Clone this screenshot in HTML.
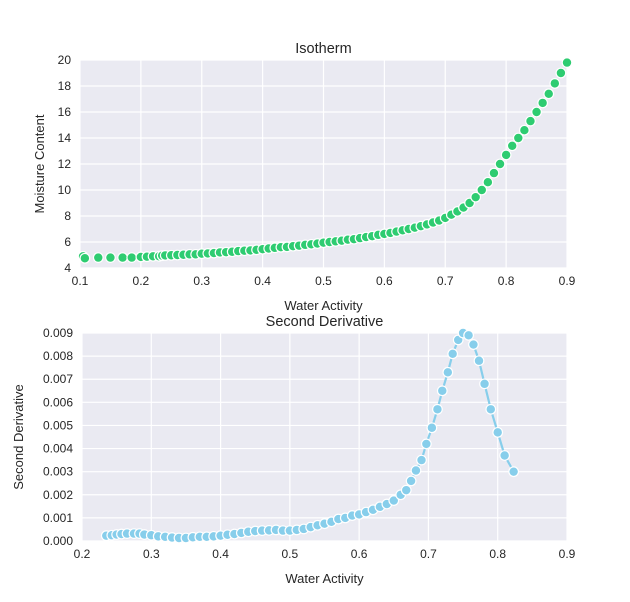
<!DOCTYPE html>
<html><head><meta charset="utf-8"><style>
html,body{margin:0;padding:0;background:#fff}
svg{display:block;font-family:"Liberation Sans",Arial,sans-serif}
</style></head><body>
<svg id="chart" width="630" height="602" xmlns="http://www.w3.org/2000/svg"></svg>
<script>
const isoX=[0.105,0.108,0.13,0.15,0.17,0.185,0.2,0.21,0.22,0.23,0.235,0.24,0.25,0.26,0.27,0.28,0.29,0.3,0.31,0.32,0.33,0.34,0.35,0.36,0.37,0.38,0.39,0.4,0.41,0.42,0.43,0.44,0.45,0.46,0.47,0.48,0.49,0.5,0.51,0.52,0.53,0.54,0.55,0.56,0.57,0.58,0.59,0.6,0.61,0.62,0.63,0.64,0.65,0.66,0.67,0.68,0.69,0.7,0.71,0.72,0.73,0.74,0.75,0.76,0.77,0.78,0.79,0.8,0.81,0.82,0.83,0.84,0.85,0.86,0.87,0.88,0.89,0.9];
const isoY=[4.9,4.75,4.8,4.8,4.8,4.8,4.85,4.87,4.9,4.9,4.95,4.97,4.98,5.0,5.02,5.05,5.05,5.1,5.12,5.15,5.2,5.22,5.25,5.3,5.33,5.35,5.4,5.45,5.5,5.55,5.6,5.62,5.68,5.72,5.78,5.82,5.88,5.95,6.0,6.05,6.1,6.18,6.22,6.3,6.38,6.45,6.55,6.62,6.7,6.8,6.9,7.0,7.1,7.22,7.35,7.5,7.65,7.85,8.1,8.35,8.65,9.0,9.45,10.0,10.6,11.3,12.0,12.7,13.4,14.0,14.6,15.3,16.0,16.7,17.4,18.2,19.0,19.8];
const derX=[0.235,0.243,0.25,0.257,0.265,0.275,0.283,0.29,0.3,0.31,0.32,0.33,0.34,0.35,0.36,0.37,0.38,0.39,0.4,0.41,0.42,0.43,0.44,0.45,0.46,0.47,0.48,0.49,0.5,0.51,0.52,0.53,0.54,0.55,0.56,0.57,0.58,0.59,0.6,0.61,0.62,0.63,0.64,0.65,0.66,0.668,0.675,0.682,0.69,0.697,0.705,0.713,0.72,0.728,0.735,0.743,0.75,0.758,0.765,0.773,0.781,0.79,0.8,0.81,0.823];
const derY=[0.00023,0.00025,0.00028,0.0003,0.00032,0.00032,0.00032,0.00028,0.00025,0.0002,0.00018,0.00015,0.00013,0.00013,0.00016,0.00018,0.00018,0.0002,0.00023,0.00027,0.0003,0.00035,0.0004,0.00043,0.00045,0.00046,0.00048,0.00045,0.00045,0.00048,0.00052,0.0006,0.00068,0.00075,0.00083,0.00095,0.001,0.0011,0.00115,0.00125,0.00135,0.00148,0.0016,0.00175,0.002,0.0022,0.0026,0.00305,0.0035,0.0042,0.0049,0.0057,0.0065,0.0073,0.0081,0.0087,0.009,0.0089,0.0085,0.0078,0.0068,0.0057,0.0047,0.0037,0.003];
const isoXTicks=[0.1,0.2,0.3,0.4,0.5,0.6,0.7,0.8,0.9];
const isoYTicks=[4,6,8,10,12,14,16,18,20];
const derXTicks=[0.2,0.3,0.4,0.5,0.6,0.7,0.8,0.9];
const derYTicks=[0,0.001,0.002,0.003,0.004,0.005,0.006,0.007,0.008,0.009];

const NS="http://www.w3.org/2000/svg";
const svg=document.getElementById('chart');
function mk(tag,attrs,parent){const e=document.createElementNS(NS,tag);for(const k in attrs)e.setAttribute(k,attrs[k]);(parent||svg).appendChild(e);return e;}

function panel(o){
  const g=mk('g',{});
  
  
  const sx=v=>o.x0+(v-o.xmin)/(o.xmax-o.xmin)*(o.x1-o.x0);
  const sy=v=>o.y1-(v-o.ymin)/(o.ymax-o.ymin)*(o.y1-o.y0);
  const bg=mk('rect',{x:o.x0,y:o.y0,width:o.x1-o.x0,height:o.y1-o.y0,fill:'#eaeaf2'},g);
  
  
  o.xt.forEach(t=>{
    const l=mk('line',{x1:sx(t),x2:sx(t),y1:o.y0,y2:o.y1,stroke:'#fff','stroke-width':1.2},g);
    
    
    const tx=mk('text',{x:sx(t),y:o.y1+17,'text-anchor':'middle','font-size':12,fill:'#262626'},g);
    tx.textContent=t.toFixed(1);
    
    
  });
  o.yt.forEach(t=>{
    const l=mk('line',{x1:o.x0,x2:o.x1,y1:sy(t),y2:sy(t),stroke:'#fff','stroke-width':1.2},g);
    
    
    const tx=mk('text',{x:o.x0-9,y:sy(t)+4,'text-anchor':'end','font-size':12,fill:'#262626'},g);
    tx.textContent=o.yfmt(t);
    
    
  });
  const cg=mk('g',{},g);
  if(o.line){
    const pl=mk('polyline',{points:o.xs.map((v,i)=>sx(v)+','+sy(o.ys[i])).join(' '),fill:'none',stroke:o.color,'stroke-width':2.2},cg);
    
    
  }
  o.xs.forEach((v,i)=>{
    const c=mk('circle',{cx:sx(v),cy:sy(o.ys[i]),r:4.8,fill:o.color,stroke:'#fff','stroke-width':1.2},cg);
    
    
  });
  const title=mk('text',{x:(o.x0+o.x1)/2,y:o.y0-7,'text-anchor':'middle','font-size':14.5,fill:'#262626'},g);
  title.textContent=o.title;
  
  
  const xl=mk('text',{x:(o.x0+o.x1)/2,y:o.y1+42,'text-anchor':'middle','font-size':13,fill:'#262626'},g);
  xl.textContent='Water Activity';
  
  
  const yc=(o.y0+o.y1)/2;
  const yl=mk('text',{x:o.ylx,y:yc,'text-anchor':'middle','font-size':13,fill:'#262626',transform:`rotate(-90 ${o.ylx} ${yc})`},g);
  yl.textContent=o.ylabel;
  
  
}

panel({name:'isotherm-panel',x0:80,x1:567,y0:60,y1:268,xmin:0.1,xmax:0.9,ymin:4,ymax:20,xt:isoXTicks,yt:isoYTicks,yfmt:t=>String(t),xs:isoX,ys:isoY,color:'#2ecc71',line:false,title:'Isotherm',ylabel:'Moisture Content',ylx:44});
panel({name:'second-derivative-panel',x0:82,x1:567,y0:333,y1:541,xmin:0.2,xmax:0.9,ymin:0,ymax:0.009,xt:derXTicks,yt:derYTicks,yfmt:t=>t.toFixed(3),xs:derX,ys:derY,color:'#87ceeb',line:true,title:'Second Derivative',ylabel:'Second Derivative',ylx:23});
</script>
</body></html>
